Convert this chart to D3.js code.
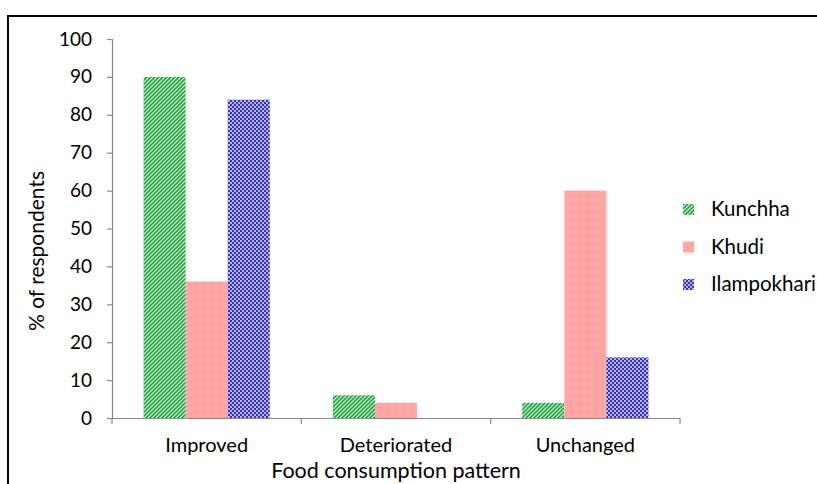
<!DOCTYPE html>
<html><head><meta charset="utf-8">
<script src="https://cdn.jsdelivr.net/npm/d3@7/dist/d3.min.js"></script>
<style>
body{margin:0;background:#fff;}
svg{display:block;}
text{font-family:Lato,"Open Sans",sans-serif;fill:#000;}
</style></head><body>
<svg id="c" width="817" height="484"></svg>
<script>
const categories = ["Improved","Deteriorated","Unchanged"];
const seriesNames = ["Kunchha","Khudi","Ilampokhari"];
const kunchha = [90, 6, 4];
const khudi = [36, 4, 60];
const ilampokhari = [84, 0, 16];
const yTicks = [0,10,20,30,40,50,60,70,80,90,100];
const series = [kunchha, khudi, ilampokhari];

const svg = d3.select("#c");
const defs = svg.append("defs");

// green diagonal stripes
const pg = defs.append("pattern").attr("id","pat0").attr("patternUnits","userSpaceOnUse").attr("width",4).attr("height",4);
pg.append("rect").attr("width",4).attr("height",4).attr("fill","#e6f6ea");
pg.append("path").attr("d","M-1,1 l2,-2 M0,4 l4,-4 M3,5 l2,-2").attr("stroke","#28a846").attr("stroke-width",1.9);
// pink fine checker
const pp = defs.append("pattern").attr("id","pat1").attr("patternUnits","userSpaceOnUse").attr("width",2).attr("height",2);
pp.append("rect").attr("width",2).attr("height",2).attr("fill","#ffb8b8");
pp.append("rect").attr("width",1).attr("height",1).attr("fill","#ff9696");
pp.append("rect").attr("x",1).attr("y",1).attr("width",1).attr("height",1).attr("fill","#ff9696");
// blue checker
const pb = defs.append("pattern").attr("id","pat2").attr("patternUnits","userSpaceOnUse").attr("width",4).attr("height",4);
pb.append("rect").attr("width",4).attr("height",4).attr("fill","#3434b4");
pb.append("rect").attr("width",2).attr("height",2).attr("fill","#b4b4ea");
pb.append("rect").attr("x",2).attr("y",2).attr("width",2).attr("height",2).attr("fill","#b4b4ea");

// frame
svg.append("path").attr("d","M8,490 L8,16 L830,16").attr("fill","none").attr("stroke","#000").attr("stroke-width",2);

const x0 = 112, x1 = 680, yTop = 39, yBot = 418;
const x = d3.scaleBand().domain(categories).range([x0,x1]).paddingInner(0).paddingOuter(0);
const xs = d3.scaleBand().domain(d3.range(3)).range([0,x.bandwidth()]).paddingInner(0).paddingOuter(0.75);
const y = d3.scaleLinear().domain([0,100]).range([yBot,yTop]);

// y axis
const gy = svg.append("g").attr("transform",`translate(${x0},0)`)
  .call(d3.axisLeft(y).tickValues(yTicks).tickSize(5).tickPadding(15).tickFormat(d3.format("d")));
gy.select(".domain").attr("stroke","#888").attr("stroke-width",1.2);
gy.selectAll(".tick line").attr("stroke","#888").attr("stroke-width",1.2);
gy.selectAll("text").attr("font-size",19).attr("font-family","Lato,sans-serif").attr("fill","#000");

// bars
categories.forEach((c,ci)=>{
  series.forEach((s,si)=>{
    const v = s[ci];
    if(v<=0) return;
    svg.append("rect").attr("x",x(c)+xs(si)).attr("width",xs.bandwidth())
      .attr("y",y(v)).attr("height",y(0)-y(v)).attr("fill",`url(#pat${si})`);
  });
});

// x axis
const gx = svg.append("g").attr("transform",`translate(0,${yBot})`)
  .call(d3.axisBottom(x).tickSize(0).tickPadding(20));
gx.select(".domain").attr("stroke","#888").attr("stroke-width",1.2);
gx.selectAll("text").attr("font-size",20).attr("font-family","Lato,sans-serif").attr("fill","#000");
// category boundary ticks
const bounds = [x0].concat(categories.map(c=>x(c)+x.bandwidth()));
svg.append("g").selectAll("line").data(bounds).join("line")
  .attr("x1",d=>d).attr("x2",d=>d).attr("y1",yBot).attr("y2",yBot+6)
  .attr("stroke","#888").attr("stroke-width",1.2);

// axis titles
svg.append("text").attr("x",396).attr("y",478).attr("text-anchor","middle").attr("font-size",21.5).text("Food consumption pattern");
svg.append("text").attr("transform","translate(44,251) rotate(-90)").attr("text-anchor","middle").attr("font-size",21).text("% of respondents");

// legend
const lg = svg.append("g");
seriesNames.forEach((n,i)=>{
  const yy = 209 + i*37.5;
  lg.append("rect").attr("x",683).attr("y",yy-5).attr("width",11).attr("height",11).attr("fill",`url(#pat${i})`);
  lg.append("text").attr("x",711).attr("y",yy+7).attr("font-size",20.5).text(n);
});
</script>
</body></html>
